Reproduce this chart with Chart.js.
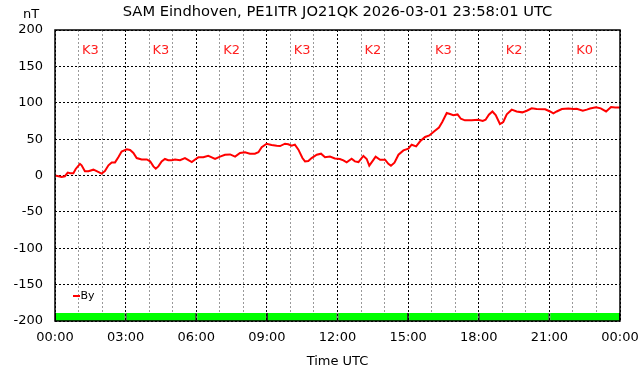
<!DOCTYPE html>
<html>
<head>
<meta charset="utf-8">
<script src="https://cdn.jsdelivr.net/npm/chart.js@4"></script>
<style>
  body { margin: 0; background: #fff; }
  canvas { display: block; }
</style>
</head>
<body>
<canvas id="chart" width="642" height="376"></canvas>
<script>
// time in hours UTC and By in nT
const hours = [
  0, 0.28, 0.42, 0.54, 0.64, 0.78, 0.88, 1.06, 1.13, 1.27, 1.42, 1.63, 1.77, 1.98, 2.12, 2.27, 2.41, 2.55, 2.69, 2.83, 3.05, 3.19, 3.33, 3.47, 3.68, 3.9,
  4.04, 4.18, 4.28, 4.39, 4.53, 4.67, 4.81, 4.96, 5.1, 5.31, 5.52, 5.67, 5.81, 5.95, 6.09, 6.3, 6.51, 6.66, 6.8, 7.01, 7.22, 7.44, 7.65, 7.86,
  8.07, 8.28, 8.49, 8.64, 8.78, 8.99, 9.2, 9.42, 9.56, 9.77, 9.91, 10.05, 10.19, 10.34, 10.51, 10.62, 10.76, 10.9, 11.12, 11.3, 11.47, 11.68, 11.89,
  12.1, 12.25, 12.39, 12.6, 12.74, 12.89, 13.1, 13.24, 13.35, 13.48, 13.62, 13.81, 14.02, 14.16, 14.27, 14.42, 14.59, 14.8, 15.01, 15.15, 15.34, 15.51, 15.72, 15.9, 16.1,
  16.31, 16.45, 16.64, 16.78, 16.92, 17.1, 17.24, 17.41, 17.7, 17.98, 18.17, 18.29, 18.43, 18.58, 18.72, 18.9, 19.04, 19.19, 19.4, 19.61, 19.85, 20.04,
  20.25, 20.46, 20.82, 21.03, 21.17, 21.31, 21.53, 21.81, 22.02, 22.16, 22.42, 22.59, 22.73, 22.98, 23.18, 23.41, 23.62, 23.79, 24.0
];
const byValues = [
  0, -2, -1, 4, 3, 3, 9, 16, 14, 6, 6, 8, 6, 2.5, 6, 14, 18, 18, 25, 33, 36, 35, 31, 24, 22, 22,
  19.5, 12.5, 9.3, 12.5, 19.4, 22.7, 21, 21, 22, 21, 24, 21, 18.5, 22, 25, 25, 27, 25, 22.7, 26, 28.6, 29, 26, 31,
  32, 30, 30, 32, 39, 43.7, 42, 41, 40.5, 43.7, 43, 41, 42.5, 35.5, 24, 19.4, 20, 24, 28.6, 30, 25, 26, 23.5,
  22.7, 20.8, 18, 23, 19.4, 18.5, 27, 22.7, 13.5, 19.4, 26, 21.7, 21.7, 16, 13.5, 17.6, 28.6, 34.5, 36.8, 42.3, 40, 47, 53, 55, 60.6,
  66, 73.5, 86, 84.5, 83, 84, 78, 75.8, 75.8, 76.7, 75, 76.7, 83.6, 88, 83, 70.8, 73.5, 84, 90.5, 88, 86.8, 89,
  92.3, 91.5, 91, 88, 85.4, 88, 91.4, 92, 91.5, 91.8, 89, 90.5, 92, 93.7, 92.3, 88, 94, 93.5, 93.5
];

// K-index per 3 hour block
const kBlocks = [1.5, 4.5, 7.5, 10.5, 13.5, 16.5, 19.5, 22.5];
const kLabels = ['K3', 'K3', 'K2', 'K3', 'K2', 'K3', 'K2', 'K0'];
const kBar = [-200, -189];

const FONT = 'DejaVu Sans';

const textPlugin = {
  id: 'texts',
  afterDraw(chart) {
    const ctx = chart.ctx;
    const a = chart.chartArea;
    const x = chart.scales.x, y = chart.scales.y;
    ctx.save();
    // frame
    ctx.strokeStyle = '#000';
    ctx.lineWidth = 1.5;
    ctx.strokeRect(a.left, a.top, a.right - a.left, a.bottom - a.top);

    ctx.fillStyle = '#000';
    ctx.textAlign = 'center';
    ctx.textBaseline = 'middle';
    ctx.font = '14.7px ' + FONT;
    ctx.fillText('SAM Eindhoven, PE1ITR JO21QK 2026-03-01 23:58:01 UTC', (a.left + a.right) / 2, 12);
    ctx.font = '13px ' + FONT;
    ctx.fillText('nT', 31, 15);
    ctx.fillText('Time UTC', (a.left + a.right) / 2, 362);

    // K index labels
    ctx.fillStyle = '#ff2020';
    kLabels.forEach((k, i) => {
      ctx.fillText(k, x.getPixelForValue(kBlocks[i]), y.getPixelForValue(172));
    });

    // legend
    ctx.strokeStyle = 'red';
    ctx.lineWidth = 2;
    ctx.beginPath();
    ctx.moveTo(73, 296);
    ctx.lineTo(80, 296);
    ctx.stroke();
    ctx.fillStyle = '#000';
    ctx.textAlign = 'left';
    ctx.font = '11px ' + FONT;
    ctx.fillText('By', 80.5, 296);
    ctx.restore();
  }
};

new Chart(document.getElementById('chart'), {
  data: {
    datasets: [{
      type: 'line',
      label: 'By',
      data: hours.map((h, i) => ({ x: h, y: byValues[i] })),
      borderColor: 'red',
      borderWidth: 2,
      pointRadius: 0,
      tension: 0,
      order: 1
    }, {
      type: 'bar',
      label: 'K',
      data: kBlocks.map(h => ({ x: h, y: kBar })),
      backgroundColor: '#00ff00',
      borderColor: '#000',
      borderWidth: { left: 1, right: 1, top: 0, bottom: 0 },
      borderSkipped: false,
      // ruler uses the 1 h tick spacing, block is 3 h wide
      barPercentage: 3,
      categoryPercentage: 1,
      order: 2
    }]
  },
  options: {
    responsive: false,
    animation: false,
    layout: { padding: { top: 30, right: 22, left: 0, bottom: 0 } },
    plugins: { legend: { display: false }, tooltip: { enabled: false } },
    scales: {
      x: {
        type: 'linear',
        min: 0,
        max: 24,
        offset: false,
        afterFit(scale) {
          scale.height = 55;
          scale.paddingLeft = 0;
          scale.paddingRight = 0;
        },
        border: { display: false, dash: [2, 2] },
        grid: {
          offset: false,
          drawTicks: false,
          color: ctx => (ctx.tick && ctx.tick.value % 3 === 0) ? '#000' : '#999',
          lineWidth: 1
        },
        ticks: {
          stepSize: 1,
          autoSkip: false,
          maxRotation: 0,
          padding: 9,
          color: '#000',
          font: { family: FONT, size: 13 },
          callback: v => v % 3 === 0 ? String(v % 24).padStart(2, '0') + ':00' : ''
        }
      },
      y: {
        min: -200,
        max: 200,
        afterFit(scale) {
          scale.width = 55;
          scale.paddingTop = 0;
          scale.paddingBottom = 0;
        },
        border: { display: false, dash: [2, 2] },
        grid: { drawTicks: false, color: '#000', lineWidth: 1 },
        ticks: {
          stepSize: 50,
          padding: 12,
          color: '#000',
          font: { family: FONT, size: 13 }
        }
      }
    }
  },
  plugins: [textPlugin]
});
</script>
</body>
</html>
